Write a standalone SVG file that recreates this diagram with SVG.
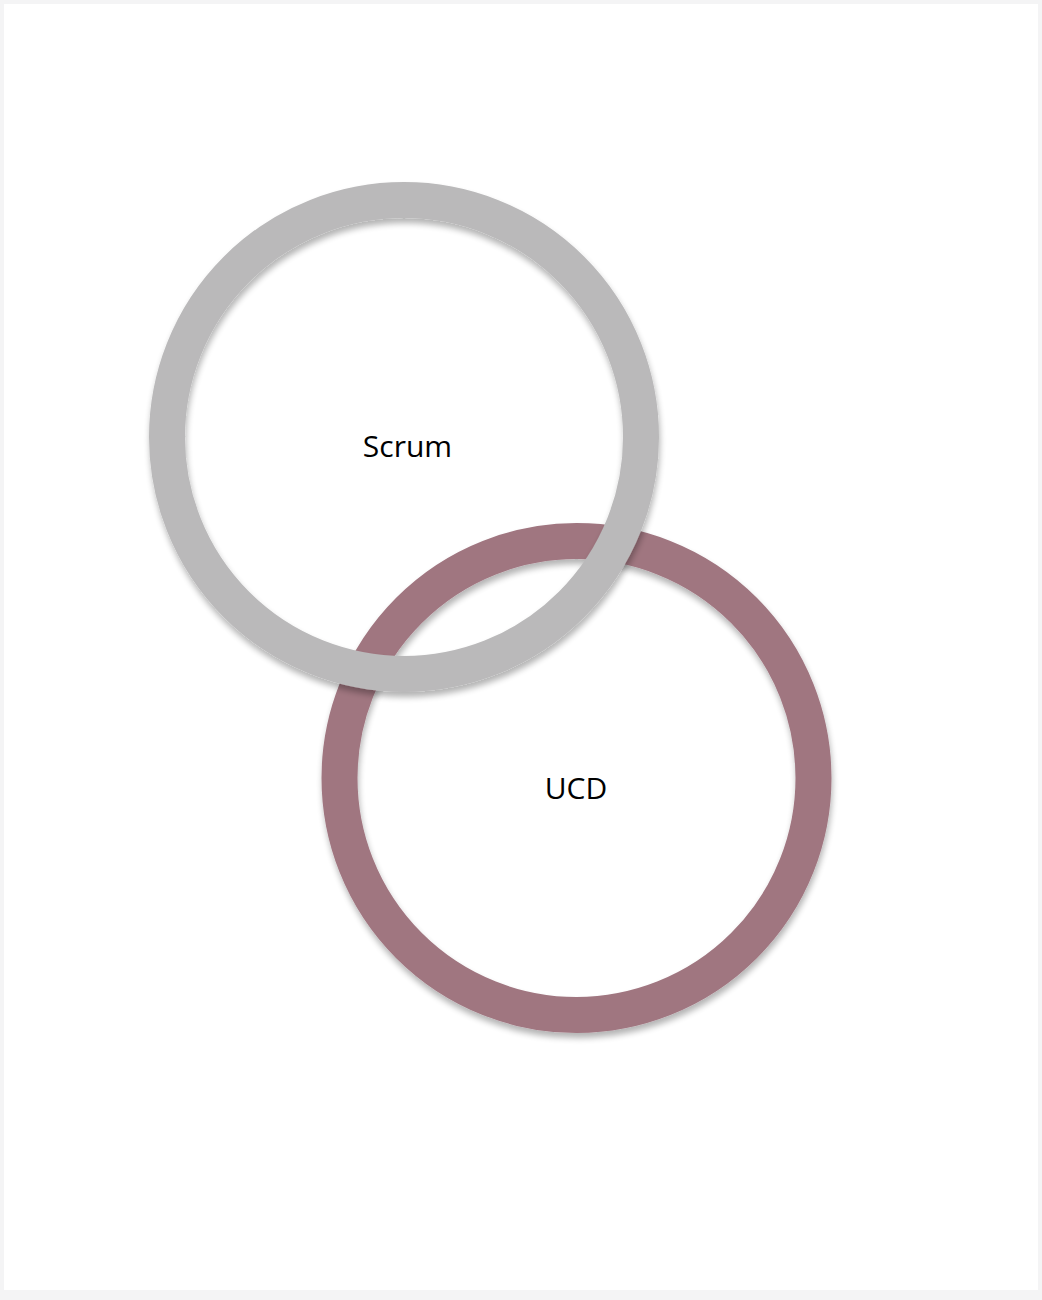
<svg xmlns="http://www.w3.org/2000/svg" width="1042" height="1300" viewBox="0 0 1042 1300">
<defs>
<filter id="sh" x="-20%" y="-20%" width="140%" height="140%">
<feGaussianBlur in="SourceAlpha" stdDeviation="3"/>
<feOffset dx="1" dy="5" result="b"/>
<feComponentTransfer><feFuncA type="linear" slope="0.3"/></feComponentTransfer>
<feMerge><feMergeNode/><feMergeNode in="SourceGraphic"/></feMerge>
</filter>
<style>
.ring{fill:none;stroke-width:36;filter:url(#sh)}
.lbl{font-family:"Open Sans","Noto Sans",sans-serif;font-size:30px;fill:#000;text-anchor:middle}
</style>
</defs>
<rect x="0" y="0" width="1042" height="1300" fill="#f4f4f5"/>
<rect x="4" y="4" width="1034" height="1286" fill="#ffffff"/>
<g id="ucd">
<circle class="ring" cx="576.5" cy="778" r="237" stroke="#a07680"/>
<text class="lbl" x="576" y="799">UCD</text>
</g>
<g id="scrum">
<circle class="ring" cx="404" cy="437" r="237" stroke="#bab9ba"/>
<text class="lbl" x="407.5" y="457">Scrum</text>
</g>
<g id="connectors"></g>
</svg>
